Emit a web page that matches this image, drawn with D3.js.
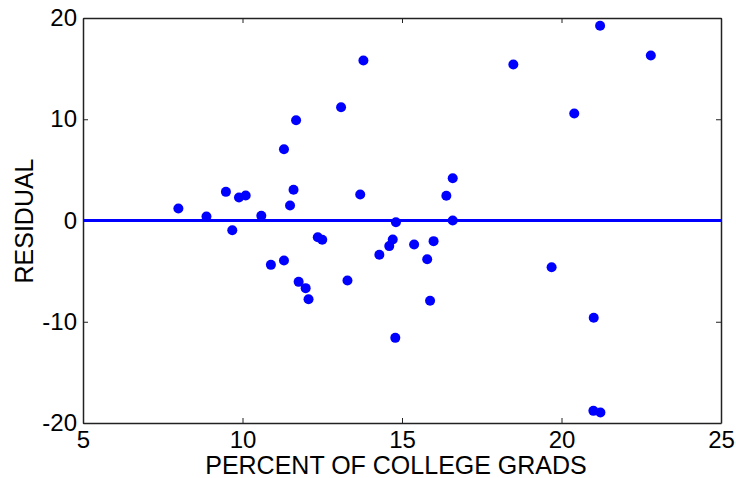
<!DOCTYPE html>
<html lang="en">
<head>
    <meta charset="UTF-8">
    <title>Residual plot</title>
    <script src="https://d3js.org/d3.v7.min.js"></script>
    <style>
        body {
            margin: 0;
            background-color: #ffffff;
            font-family: Arial, "Liberation Sans", sans-serif;
        }
        .tick text {
            font-size: 24px;
            fill: #000;
        }
        .axis-label {
            font-size: 25px;
            fill: #000;
        }
        .dot {
            fill: #0000ff;
        }
    </style>
</head>
<body>
<svg width="736" height="478"></svg>
<script>
    // percent of college grads (x) and residual (y)
    const collegeGrads = [7.99, 8.87, 9.48, 9.68, 9.89, 10.10, 10.59, 11.30, 11.49, 11.60, 11.68, 13.09, 13.69, 13.79, 14.81,
        10.89, 11.30, 11.76, 11.98, 12.07, 12.36, 12.50, 13.29, 14.29, 14.60, 14.71, 14.79,
        16.39, 16.59, 16.59, 18.49, 20.40, 21.21, 22.80,
        15.38, 15.99, 15.79, 15.88, 19.69, 21.01, 21.00, 21.22];
    const residuals = [1.19, 0.40, 2.83, -0.96, 2.27, 2.47, 0.46, 7.04, 1.48, 3.03, 9.91, 11.19, 2.57, 15.80, -0.17,
        -4.38, -3.95, -6.06, -6.68, -7.77, -1.65, -1.91, -5.93, -3.39, -2.53, -1.88, -11.59,
        2.44, 4.18, 0.0, 15.41, 10.57, 19.23, 16.30,
        -2.37, -2.04, -3.82, -7.93, -4.61, -9.61, -18.80, -18.96];

    const xTicks = [5, 10, 15, 20, 25];
    const yTicks = [-20, -10, 0, 10, 20];

    const svg = d3.select("svg");
    const plotLeft = 83, plotRight = 721, plotTop = 18, plotBottom = 423;

    const x = d3.scaleLinear().domain([5, 25]).range([plotLeft, plotRight]);
    const y = d3.scaleLinear().domain([-20, 20]).range([plotBottom, plotTop]);

    // bottom axis with labels
    svg.append("g")
        .attr("transform", `translate(0,${plotBottom})`)
        .call(d3.axisBottom(x).tickValues(xTicks).tickSizeInner(-5).tickSizeOuter(0).tickPadding(8)
            .tickFormat(d => String(d)));

    // left axis with labels (plain hyphen for negatives)
    svg.append("g")
        .attr("transform", `translate(${plotLeft},0)`)
        .call(d3.axisLeft(y).tickValues(yTicks).tickSizeInner(-5).tickSizeOuter(0).tickPadding(6)
            .tickFormat(d => String(d)));

    // mirrored ticks on top and right, no labels
    svg.append("g")
        .attr("transform", `translate(0,${plotTop})`)
        .call(d3.axisTop(x).tickValues(xTicks).tickSizeInner(-5).tickSizeOuter(0).tickFormat(""));
    svg.append("g")
        .attr("transform", `translate(${plotRight},0)`)
        .call(d3.axisRight(y).tickValues(yTicks).tickSizeInner(-5).tickSizeOuter(0).tickFormat(""));

    svg.selectAll(".domain").attr("stroke", "#222").attr("stroke-width", 1.5);
    svg.selectAll(".tick line").attr("stroke", "#222");
    svg.selectAll("g").attr("font-family", null).attr("font-size", null);

    // zero line
    svg.append("line")
        .attr("x1", x(5)).attr("x2", x(25))
        .attr("y1", y(0)).attr("y2", y(0))
        .attr("stroke", "#0000ff")
        .attr("stroke-width", 3);

    // points
    svg.selectAll(".dot")
        .data(collegeGrads.map((v, i) => [v, residuals[i]]))
        .enter().append("circle")
        .attr("class", "dot")
        .attr("cx", d => x(d[0]))
        .attr("cy", d => y(d[1]))
        .attr("r", 5);

    // axis titles
    svg.append("text")
        .attr("class", "axis-label")
        .attr("x", 396)
        .attr("y", 474)
        .attr("text-anchor", "middle")
        .text("PERCENT OF COLLEGE GRADS");

    svg.append("text")
        .attr("class", "axis-label")
        .attr("transform", `translate(33,221) rotate(-90)`)
        .attr("text-anchor", "middle")
        .text("RESIDUAL");
</script>
</body>
</html>
